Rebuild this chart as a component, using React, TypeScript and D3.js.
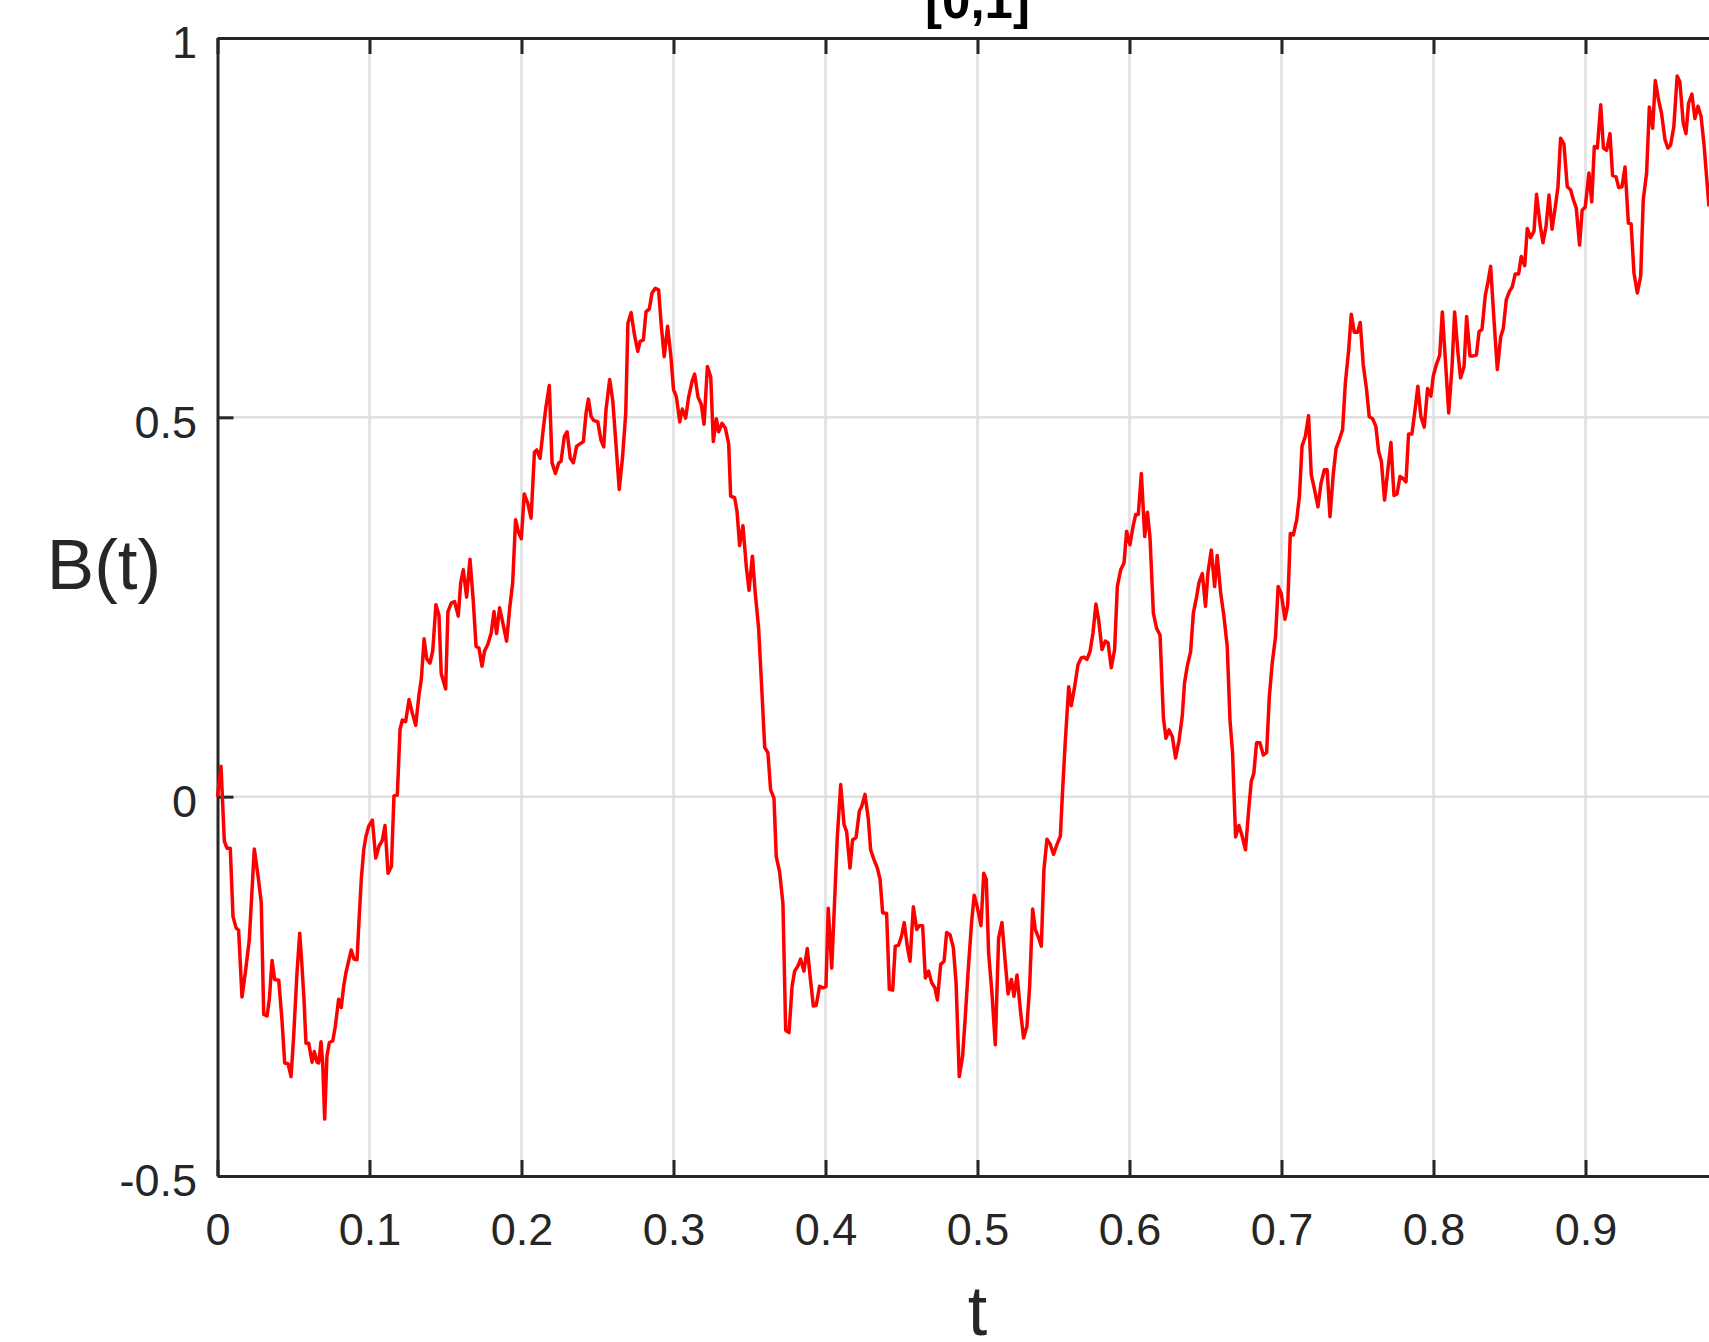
import React, { useRef, useEffect } from 'react';
import * as d3 from 'd3';

// sample times of the path (only the part that is visible, up to ~0.98)
const times = [
  0, 0.0023, 0.0045, 0.0063, 0.0084, 0.0102, 0.0122, 0.0139, 0.0161, 0.0183,
  0.0209, 0.0242, 0.0267, 0.0288, 0.0304, 0.0326, 0.0341, 0.0359, 0.0376, 0.0403,
  0.0424, 0.0442, 0.0464, 0.0484, 0.0501, 0.0523, 0.0541, 0.0556, 0.0569, 0.0582,
  0.06, 0.0622, 0.0637, 0.0655, 0.0666, 0.0681, 0.0692, 0.0705, 0.072, 0.0736,
  0.0758, 0.0775, 0.0797, 0.0814, 0.083, 0.0845, 0.088, 0.0898, 0.0918, 0.0929,
  0.0946, 0.0962, 0.0977, 0.0995,
  0.1019, 0.1041, 0.1063, 0.1084, 0.1102, 0.1122, 0.1144, 0.1161, 0.1183, 0.1201,
  0.1216, 0.1238, 0.126, 0.1282, 0.1304, 0.1326, 0.1341, 0.1359, 0.1376, 0.1398,
  0.1416, 0.1437, 0.1457, 0.1472, 0.1501, 0.1516, 0.1538, 0.156, 0.1584, 0.16,
  0.1617, 0.1639, 0.1661, 0.1683, 0.1701, 0.172, 0.174, 0.1757, 0.1779, 0.1801,
  0.1819, 0.1836, 0.1856, 0.1876, 0.1902, 0.1922, 0.1942, 0.1961, 0.1981, 0.1999,
  0.2018, 0.2041, 0.2063, 0.2085, 0.21, 0.2122, 0.2144, 0.2161, 0.2183, 0.2201,
  0.2223, 0.2245, 0.226, 0.2282, 0.23, 0.2321, 0.2341, 0.2363, 0.2385, 0.2407,
  0.2425, 0.244, 0.2458, 0.2475, 0.2502, 0.2523, 0.2541, 0.2556, 0.258, 0.26,
  0.2621, 0.2643, 0.2665, 0.2686, 0.27, 0.2721, 0.2743, 0.2765, 0.278, 0.2802,
  0.2819, 0.2841, 0.2859, 0.288, 0.2902, 0.292, 0.2939, 0.2961, 0.2983, 0.3,
  0.3019, 0.3041, 0.3058, 0.308, 0.31, 0.3122, 0.3139, 0.3161, 0.3183, 0.3201,
  0.3223, 0.3245, 0.3262, 0.3282, 0.3297, 0.3319, 0.3341, 0.3363, 0.3376, 0.3402,
  0.3418, 0.3435, 0.3457, 0.348, 0.3497, 0.3519, 0.3538, 0.356, 0.3582, 0.36,
  0.3621, 0.3639, 0.3661, 0.3676, 0.3698, 0.372, 0.3738, 0.376, 0.378, 0.3797,
  0.3819, 0.3836, 0.3858, 0.388, 0.3902, 0.392, 0.3939, 0.3961, 0.3983, 0.4003,
  0.4018, 0.4041, 0.4063, 0.4078, 0.41, 0.4122, 0.4139, 0.4161, 0.4178, 0.4201,
  0.4223, 0.4238, 0.426, 0.4282, 0.4297, 0.4319, 0.4341, 0.4359, 0.4376, 0.4402,
  0.442, 0.4442, 0.4459, 0.448, 0.45, 0.4518, 0.4538, 0.4556, 0.4578, 0.46,
  0.4617, 0.4639, 0.4657, 0.4678, 0.4698, 0.472, 0.4736, 0.4758, 0.478, 0.4797,
  0.4819, 0.4841, 0.4859, 0.488, 0.4902, 0.492, 0.4939, 0.4961, 0.4978, 0.4998,
  0.5023, 0.5041, 0.5058, 0.5073, 0.5095, 0.5117, 0.5139, 0.5161, 0.5183, 0.5201,
  0.5223, 0.524, 0.526, 0.5282, 0.5303, 0.5325, 0.5343, 0.5363, 0.538, 0.5402,
  0.542, 0.5437, 0.5457, 0.5479, 0.55, 0.5523, 0.5545, 0.556, 0.5577, 0.56,
  0.5617, 0.5639, 0.5661, 0.5683, 0.57, 0.572, 0.574, 0.576, 0.5779, 0.5797,
  0.5819, 0.5841, 0.5859, 0.588, 0.5902, 0.592, 0.5942,
  0.5964, 0.5981, 0.6003, 0.6025, 0.6041, 0.6058, 0.6078, 0.61, 0.6118, 0.6135,
  0.6157, 0.6178, 0.6201, 0.6223, 0.624, 0.626, 0.6282, 0.6303, 0.6325, 0.6347,
  0.6362, 0.638, 0.6402, 0.642, 0.6442, 0.6457, 0.6479, 0.65, 0.6516, 0.6538,
  0.656, 0.6577, 0.66, 0.6621, 0.6643, 0.6661, 0.6678, 0.6698, 0.672, 0.6741,
  0.6763, 0.6786, 0.6801, 0.6818, 0.6836, 0.6858, 0.688, 0.6902, 0.692, 0.6939,
  0.6961, 0.6978, 0.6998,
  0.7023, 0.7041, 0.7058, 0.7078, 0.71, 0.7118, 0.7135, 0.7157, 0.7178, 0.7196,
  0.7218, 0.724, 0.726, 0.7282, 0.73, 0.7319, 0.7341, 0.7359, 0.738, 0.7402,
  0.742, 0.7442, 0.7459, 0.7479, 0.75, 0.7518, 0.7538, 0.756, 0.7577, 0.76,
  0.7621, 0.7639, 0.7657, 0.7678, 0.77, 0.772, 0.774, 0.776, 0.778, 0.7801,
  0.7819, 0.7836, 0.7858, 0.788, 0.7897, 0.7917, 0.7939, 0.7961, 0.7983, 0.7998,
  0.8018, 0.8041, 0.8058, 0.8078, 0.81, 0.8122, 0.8139, 0.8161, 0.8178, 0.8201,
  0.8218, 0.824, 0.8262, 0.8282, 0.83, 0.8319, 0.8341, 0.8359, 0.8376, 0.8398,
  0.842, 0.8442, 0.8459, 0.8479, 0.85, 0.8518, 0.8538, 0.856, 0.8577, 0.86,
  0.8617, 0.8639, 0.8661, 0.8678, 0.87, 0.872, 0.874, 0.876, 0.878, 0.8801,
  0.8819, 0.8836, 0.8858, 0.888, 0.8902, 0.892, 0.8939, 0.8961, 0.8978, 0.8998,
  0.9023, 0.9041, 0.9058, 0.9078, 0.91, 0.9118, 0.9139, 0.9161, 0.9178, 0.9201,
  0.9218, 0.924, 0.926, 0.9282, 0.93, 0.9319, 0.9341, 0.9363, 0.938, 0.9402,
  0.942, 0.9442, 0.9459, 0.9481, 0.95, 0.9523, 0.9542, 0.956, 0.9581, 0.9603,
  0.9621, 0.9643, 0.9661, 0.9678, 0.97, 0.972, 0.974, 0.976, 0.978, 0.9801,
  0.9812,
];

// B(t), same order as times
const values = [
  0, 0.04, -0.059, -0.068, -0.068, -0.158, -0.173, -0.176, -0.264, -0.232,
  -0.189, -0.069, -0.105, -0.14, -0.287, -0.289, -0.267, -0.216, -0.241, -0.242,
  -0.294, -0.351, -0.352, -0.369, -0.316, -0.232, -0.18, -0.224, -0.267, -0.325,
  -0.325, -0.35, -0.336, -0.35, -0.351, -0.323, -0.351, -0.425, -0.342, -0.324,
  -0.322, -0.303, -0.267, -0.278, -0.25, -0.232, -0.202, -0.214, -0.215, -0.171,
  -0.109, -0.07, -0.052, -0.039,
  -0.031, -0.081, -0.065, -0.058, -0.038, -0.101, -0.092, 0.001, 0.002, 0.089,
  0.101, 0.099, 0.128, 0.11, 0.094, 0.135, 0.155, 0.208, 0.182, 0.176,
  0.192, 0.253, 0.239, 0.162, 0.142, 0.244, 0.255, 0.257, 0.238, 0.282,
  0.299, 0.263, 0.313, 0.257, 0.198, 0.196, 0.172, 0.192, 0.201, 0.216,
  0.244, 0.215, 0.249, 0.23, 0.205, 0.248, 0.282, 0.365, 0.348, 0.34,
  0.399, 0.387, 0.367, 0.454, 0.457, 0.446, 0.486, 0.514, 0.542, 0.44,
  0.426, 0.44, 0.442, 0.475, 0.481, 0.446, 0.44, 0.462, 0.465, 0.468,
  0.506, 0.524, 0.501, 0.496, 0.494, 0.47, 0.461, 0.51, 0.55, 0.523,
  0.466, 0.405, 0.448, 0.506, 0.624, 0.638, 0.609, 0.587, 0.6, 0.602,
  0.639, 0.643, 0.664, 0.67, 0.668, 0.62, 0.58, 0.62, 0.58, 0.537,
  0.527, 0.494, 0.511, 0.499, 0.527, 0.547, 0.557, 0.527, 0.517, 0.491,
  0.567, 0.553, 0.468, 0.498, 0.481, 0.492, 0.486, 0.465, 0.396, 0.394,
  0.376, 0.331, 0.357, 0.301, 0.272, 0.317, 0.268, 0.222, 0.137, 0.065,
  0.058, 0.009, -0.002, -0.079, -0.099, -0.141, -0.308, -0.311, -0.25, -0.23,
  -0.223, -0.214, -0.23, -0.2, -0.243, -0.276, -0.275, -0.25, -0.252, -0.25,
  -0.147, -0.226, -0.123, -0.052, 0.016, -0.037, -0.046, -0.094, -0.057, -0.054,
  -0.019, -0.013, 0.003, -0.03, -0.07, -0.083, -0.094, -0.109, -0.153, -0.154,
  -0.254, -0.255, -0.197, -0.196, -0.184, -0.166, -0.197, -0.217, -0.145, -0.175,
  -0.17, -0.17, -0.239, -0.23, -0.245, -0.252, -0.268, -0.221, -0.217, -0.179,
  -0.182, -0.199, -0.245, -0.369, -0.342, -0.289, -0.228, -0.166, -0.13, -0.145,
  -0.17, -0.101, -0.109, -0.206, -0.259, -0.327, -0.186, -0.166, -0.219, -0.26,
  -0.241, -0.263, -0.235, -0.281, -0.318, -0.303, -0.25, -0.148, -0.175, -0.186,
  -0.197, -0.096, -0.056, -0.063, -0.076, -0.063, -0.052, 0.009, 0.071, 0.145,
  0.12, 0.145, 0.174, 0.183, 0.184, 0.181, 0.191, 0.216, 0.254, 0.233,
  0.194, 0.205, 0.203, 0.17, 0.194, 0.277, 0.299,
  0.308, 0.35, 0.332, 0.358, 0.372, 0.372, 0.426, 0.343, 0.375, 0.341,
  0.242, 0.222, 0.213, 0.104, 0.077, 0.088, 0.079, 0.051, 0.073, 0.106,
  0.15, 0.172, 0.191, 0.242, 0.264, 0.282, 0.294, 0.251, 0.295, 0.325,
  0.277, 0.318, 0.268, 0.238, 0.198, 0.101, 0.058, -0.053, -0.038, -0.052,
  -0.07, -0.013, 0.02, 0.031, 0.071, 0.071, 0.055, 0.058, 0.132, 0.176,
  0.211, 0.277, 0.268,
  0.234, 0.253, 0.347, 0.345, 0.365, 0.396, 0.462, 0.475, 0.502, 0.424,
  0.404, 0.382, 0.413, 0.431, 0.431, 0.369, 0.426, 0.459, 0.47, 0.484,
  0.545, 0.589, 0.636, 0.612, 0.612, 0.625, 0.569, 0.536, 0.501, 0.498,
  0.488, 0.455, 0.442, 0.391, 0.431, 0.467, 0.397, 0.399, 0.422, 0.419,
  0.415, 0.478, 0.478, 0.512, 0.541, 0.501, 0.487, 0.538, 0.528, 0.554,
  0.569, 0.582, 0.639, 0.576, 0.506, 0.567, 0.639, 0.585, 0.552, 0.567,
  0.633, 0.581, 0.581, 0.582, 0.613, 0.616, 0.661, 0.679, 0.699, 0.628,
  0.563, 0.606, 0.617, 0.655, 0.666, 0.672, 0.689, 0.689, 0.712, 0.7,
  0.749, 0.737, 0.745, 0.794, 0.756, 0.73, 0.751, 0.793, 0.748, 0.777,
  0.804, 0.868, 0.86, 0.804, 0.8, 0.787, 0.776, 0.727, 0.773, 0.777,
  0.822, 0.784, 0.857, 0.855, 0.912, 0.855, 0.852, 0.874, 0.819, 0.817,
  0.803, 0.804, 0.83, 0.756, 0.755, 0.69, 0.664, 0.686, 0.787, 0.822,
  0.909, 0.881, 0.944, 0.918, 0.901, 0.866, 0.855, 0.859, 0.883, 0.95,
  0.942, 0.888, 0.874, 0.914, 0.926, 0.894, 0.91, 0.897, 0.859, 0.806,
  0.778,
];

const xTicks = [0, 0.1, 0.2, 0.3, 0.4, 0.5, 0.6, 0.7, 0.8, 0.9, 1];
const xTickLabels = ['0', '0.1', '0.2', '0.3', '0.4', '0.5', '0.6', '0.7', '0.8', '0.9', '1'];
const yTicks = [-0.5, 0, 0.5, 1];
const yTickLabels = ['-0.5', '0', '0.5', '1'];

const titleText = '[0,1]';
const xLabelText = 't';
const yLabelText = 'B(t)';

const App = () => {
  const svgRef = useRef<SVGSVGElement>(null);

  useEffect(() => {
    const svg = d3.select(svgRef.current);
    svg.selectAll('*').remove();

    const width = 1709;
    const height = 1342;
    // the axes box runs past the right edge of the window
    const box = { left: 217.5, right: 1737.5, top: 38, bottom: 1176 };
    const axisColor = '#262626';
    const font = '"Liberation Sans", Arial, Helvetica, sans-serif';

    const x = d3.scaleLinear().domain([0, 1]).range([box.left, box.right]);
    const y = d3.scaleLinear().domain([-0.5, 1]).range([box.bottom, box.top]);

    svg.attr('width', width).attr('height', height);

    // grid
    const grid = svg.append('g').attr('stroke', '#dfdfdf').attr('stroke-width', 2.5);
    grid
      .selectAll('.vgrid')
      .data(xTicks.filter((d) => d > 0 && d < 1))
      .enter()
      .append('line')
      .attr('x1', (d) => x(d))
      .attr('x2', (d) => x(d))
      .attr('y1', box.top)
      .attr('y2', box.bottom);
    grid
      .selectAll('.hgrid')
      .data(yTicks.filter((d) => d > -0.5 && d < 1))
      .enter()
      .append('line')
      .attr('x1', box.left)
      .attr('x2', box.right)
      .attr('y1', (d) => y(d))
      .attr('y2', (d) => y(d));

    const styleAxis = (g: any) => {
      g.attr('font-family', font).attr('font-size', 45);
      g.selectAll('.domain').attr('stroke', axisColor).attr('stroke-width', 3);
      g.selectAll('.tick line').attr('stroke', axisColor).attr('stroke-width', 3);
      g.selectAll('.tick text').attr('fill', axisColor);
    };

    // bottom axis, ticks pointing inward
    const xAxis = d3
      .axisBottom(x)
      .tickValues(xTicks)
      .tickFormat((d, i) => xTickLabels[i])
      .tickSizeInner(-16)
      .tickSizeOuter(0)
      .tickPadding(37);
    svg.append('g').attr('transform', `translate(0,${box.bottom})`).call(xAxis).call(styleAxis);

    const xAxisTop = d3
      .axisTop(x)
      .tickValues(xTicks)
      .tickFormat(() => '')
      .tickSizeInner(-16)
      .tickSizeOuter(0);
    svg.append('g').attr('transform', `translate(0,${box.top})`).call(xAxisTop).call(styleAxis);

    const yAxis = d3
      .axisLeft(y)
      .tickValues(yTicks)
      .tickFormat((d, i) => yTickLabels[i])
      .tickSizeInner(-16)
      .tickSizeOuter(0)
      .tickPadding(20.5);
    const yg = svg.append('g').attr('transform', `translate(${box.left},0)`).call(yAxis).call(styleAxis);
    yg.selectAll('.tick text').attr('dy', '0.44em');

    const yAxisRight = d3
      .axisRight(y)
      .tickValues(yTicks)
      .tickFormat(() => '')
      .tickSizeInner(-16)
      .tickSizeOuter(0);
    svg.append('g').attr('transform', `translate(${box.right},0)`).call(yAxisRight).call(styleAxis);

    // the path
    const line = d3
      .line<number>()
      .x((d, i) => x(times[i]))
      .y((d) => y(d));
    svg
      .append('path')
      .datum(values)
      .attr('d', line)
      .attr('fill', 'none')
      .attr('stroke', '#ff0000')
      .attr('stroke-width', 3.5)
      .attr('stroke-linejoin', 'round');

    // texts
    svg
      .append('text')
      .attr('x', x(0.5))
      .attr('y', 18)
      .attr('text-anchor', 'middle')
      .attr('font-family', font)
      .attr('font-weight', 'bold')
      .attr('font-size', 51)
      .attr('fill', '#000')
      .text(titleText);

    svg
      .append('text')
      .attr('x', x(0.5))
      .attr('y', 1335)
      .attr('text-anchor', 'middle')
      .attr('font-family', font)
      .attr('font-size', 70)
      .attr('fill', axisColor)
      .text(xLabelText);

    svg
      .append('text')
      .attr('x', 104)
      .attr('y', 589)
      .attr('text-anchor', 'middle')
      .attr('font-family', font)
      .attr('font-size', 71)
      .attr('fill', axisColor)
      .text(yLabelText);
  }, []);

  return (
    <div
      style={{
        position: 'fixed',
        left: 0,
        top: 0,
        width: 1709,
        height: 1342,
        overflow: 'hidden',
        background: '#fff',
      }}
    >
      <svg ref={svgRef} width={1709} height={1342} style={{ display: 'block' }}></svg>
    </div>
  );
};

export default App;
